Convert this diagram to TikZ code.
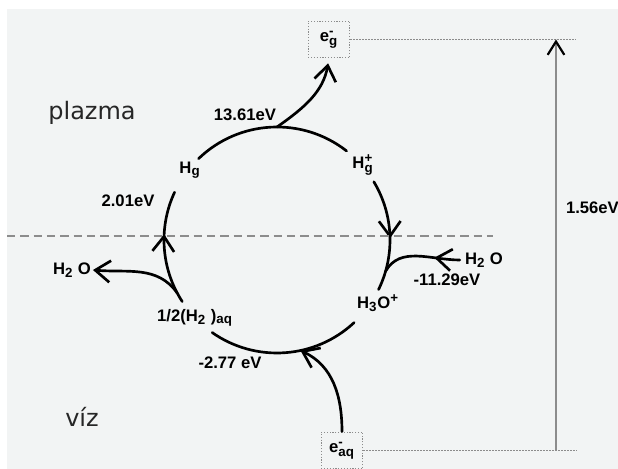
\documentclass[tikz,border=0pt]{standalone}
\usepackage{amsmath}
\usepackage{fontspec}
\setmainfont{Liberation Sans}
\newfontfamily\regionfont{DejaVu Sans}
\DeclareMathSizes{10}{10}{8}{6}
\usetikzlibrary{arrows.meta, positioning, calc, decorations.markings}
\definecolor{bgGray}{HTML}{F2F4F4}
\definecolor{lineGray}{HTML}{8C8C8C}

\begin{document}
\begin{tikzpicture}[x=0.6pt, y=0.6pt,
  lbl/.style={font=\normalsize\bfseries, inner sep=1pt},
  region/.style={font=\regionfont\Large, text=black!85},
  level/.style={draw=lineGray, densely dotted, line width=0.7pt, minimum width=25pt,
                minimum height=22pt, inner sep=1pt, font=\normalsize\bfseries},
  ring/.style={line width=1.6pt, line cap=round},
  branch/.style={-{Straight Barb[length=9pt, width=13pt]}},
  midarrow/.style={decoration={markings, mark=at position #1 with
                   {\arrow{Straight Barb[length=9pt, width=13pt]}}}, postaction={decorate}},
  guide/.style={draw=lineGray, densely dotted, line width=0.8pt},
  boundary/.style={draw=lineGray, dashed, dash pattern=on 5pt off 3pt, line width=1.1pt}
]
  \useasboundingbox (0,0) rectangle (618,469);
  \fill[bgGray] (7,0) rectangle (618,460);

  % energy levels of the electron
  \node[level] (eg) at (329,429.5) {e$^{\text{-}}_{\text{g}}$};
  \node[level] (eaq) at (342,18.5) {e$^{\text{-}}_{\text{aq}}$};

  % the cycle
  \coordinate (C) at (277,229);
  \path (C) ++(90:113) coordinate (ion);
  \path (C) ++(-16:113) coordinate (hydr);
  \path (C) ++(-152:113) coordinate (evap);
  \path (C) ++(-78:113) coordinate (solv);

  \draw[ring] (C) ++(134:113) arc[start angle=134, end angle=52, radius=113];
  \draw[ring, midarrow=0.53] (C) ++(31:113) arc[start angle=31, end angle=-26, radius=113];
  \draw[ring] (C) ++(-47:113) arc[start angle=-47, end angle=-125, radius=113];
  \draw[ring, midarrow=0.62] (C) ++(213:113) arc[start angle=213, end angle=155, radius=113];

  \node[region] (plasma) at (92,356) {plazma};
  \node[region] (water) at (82,52) {víz};

  \node[lbl] (hg) at (190,299) {H$_{\text{g}}$};
  \node[lbl] (hgp) at (363,304) {H$^{\text{+}}_{\text{g}}$};
  \node[lbl] (e1) at (245,354) {13.61eV};
  \node[lbl] (e2) at (128,268) {2.01eV};
  \node[lbl] (h2oL) at (72,199) {H$_{\text{2}}$ O};
  \node[lbl] (h2q) at (195,151) {1/2(H$_{\text{2}}$ )$_{\text{aq}}$};
  \node[lbl] (e3) at (230,106) {-2.77 eV};
  \node[lbl] (h3o) at (378,166) {H$_{\text{3}}$O$^{\text{+}}$};
  \node[lbl] (h2oR) at (484,209) {H$_{\text{2}}$ O};
  \node[lbl] (e4) at (447,189) {-11.29eV};
  \node[lbl, anchor=west] (gap) at (564,261) {1.56eV};

  \draw[ring, branch, shorten >=3pt] (ion) to[out=35, in=-100] (eg.south);
  \draw[ring, midarrow=0.32] ([xshift=-2pt]h2oR.west) to[out=180, in=60] (hydr);
  \draw[ring, branch] (evap) to[out=125, in=-5] (h2oL.east);
  \draw[ring, branch] (eaq.north) to[out=90, in=-25] (solv);

  % plasma / water boundary
  \coordinate (cutL) at (7,233);
  \coordinate (cutR) at (493,233);
  \draw[boundary] (cutL) -- (cutR);

  % 1.56eV gap
  \coordinate (topEnd) at (576,429.5);
  \coordinate (botEnd) at (577,18.5);
  \coordinate (gapTop) at (556,429.5);
  \coordinate (gapBot) at (556,18.5);
  \draw[guide] (eg.east) -- (topEnd);
  \draw[guide] (eaq.east) -- (botEnd);
  \draw[lineGray, line width=0.8pt, -{Straight Barb[length=8pt, width=10pt, line width=1.3pt, color=black]}]
    (gapBot) -- (gapTop);
\end{tikzpicture}
\end{document}
